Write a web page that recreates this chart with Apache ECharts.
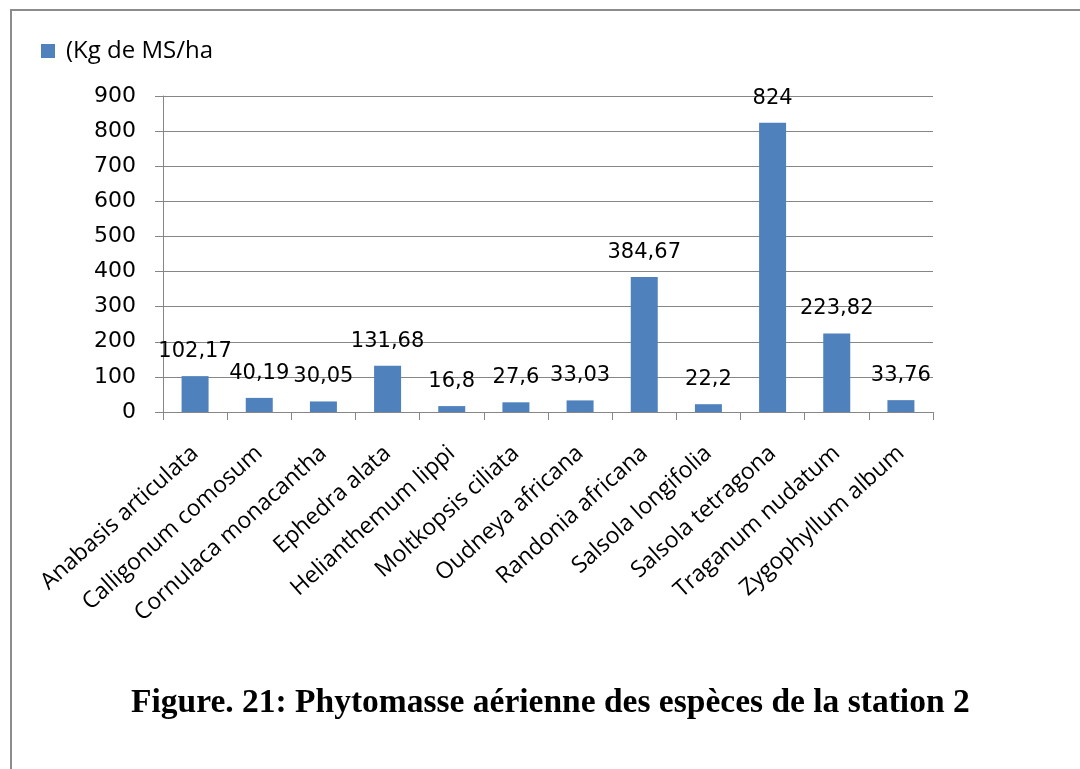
<!DOCTYPE html>
<html>
<head>
<meta charset="utf-8">
<style>
  html, body { margin: 0; padding: 0; background: #fff; }
  #chart { width: 1080px; height: 769px; }
</style>
<script src="https://cdn.jsdelivr.net/npm/echarts@6/dist/echarts.min.js"></script>
</head>
<body>
<div id="chart"></div>
<script>
// espèces de la station 2
var especes = ['Anabasis articulata', 'Calligonum comosum', 'Cornulaca monacantha', 'Ephedra alata',
  'Helianthemum lippi', 'Moltkopsis ciliata', 'Oudneya africana', 'Randonia africana',
  'Salsola longifolia', 'Salsola tetragona', 'Traganum nudatum', 'Zygophyllum album'];
var phytomasse = [102.17, 40.19, 30.05, 131.68, 16.8, 27.6, 33.03, 384.67, 22.2, 824, 223.82, 33.76];
var serieNom = '(Kg de MS/ha';

var myChart = echarts.init(document.getElementById('chart'));

var option = {
  animation: false,
  backgroundColor: '#fff',
  title: {
    text: 'Figure. 21: Phytomasse aérienne des espèces de la station 2',
    left: 126,
    top: 681,
    textStyle: {
      fontFamily: 'Liberation Serif',
      fontWeight: 'bold',
      fontSize: 33.5,
      color: '#000'
    }
  },
  legend: {
    left: 36,
    top: 34,
    icon: 'rect',
    itemWidth: 14,
    itemHeight: 14,
    textStyle: { fontFamily: 'Open Sans', fontSize: 24, color: '#000', padding: [0, 0, 0, 6] },
    data: [serieNom]
  },
  graphic: [{
    // cadre de la figure
    type: 'polyline',
    shape: { points: [[11, 769], [11, 10], [1080, 10]] },
    style: { stroke: '#8c8c8c', lineWidth: 2, fill: null }
  }],
  grid: { left: 163, right: 147, top: 96, bottom: 357 },
  xAxis: {
    type: 'category',
    data: especes,
    axisLine: { lineStyle: { color: '#868686', width: 1 } },
    axisTick: { show: true, length: 8, lineStyle: { color: '#868686' } },
    axisLabel: {
      rotate: 42,
      interval: 0,
      margin: 38,
      fontFamily: 'Open Sans',
      fontSize: 23,
      color: '#000'
    }
  },
  yAxis: {
    type: 'value',
    min: 0,
    max: 900,
    interval: 100,
    axisLine: { show: true, lineStyle: { color: '#868686', width: 1 } },
    axisTick: { show: true, length: 8, lineStyle: { color: '#868686' } },
    axisLabel: { fontFamily: 'DejaVu Sans', fontSize: 22, color: '#000', margin: 27 },
    splitLine: { lineStyle: { color: '#868686', width: 1 } }
  },
  series: [{
    name: serieNom,
    type: 'bar',
    data: phytomasse,
    barWidth: 27,
    itemStyle: { color: '#4F81BD' },
    label: {
      show: true,
      position: 'top',
      distance: 14,
      fontFamily: 'DejaVu Sans',
      fontSize: 21,
      color: '#000',
      formatter: function(p) {
        return String(p.value).replace('.', ',');
      }
    }
  }]
};

myChart.setOption(option);
</script>
</body>
</html>
